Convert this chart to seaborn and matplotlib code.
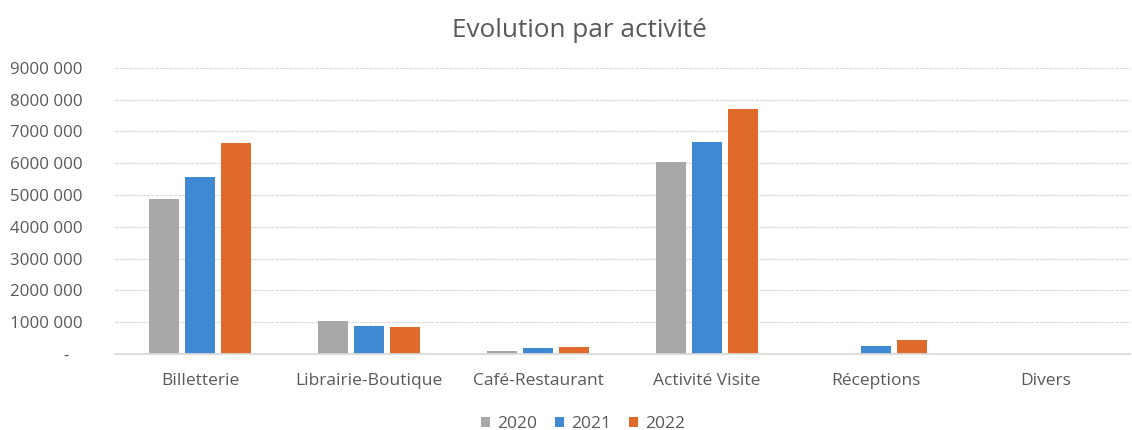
import numpy as np
import pandas as pd
import matplotlib
matplotlib.use("Agg")
import matplotlib.pyplot as plt
import seaborn as sns

categories = ["Billetterie", "Librairie-Boutique", "Café-Restaurant",
              "Activité Visite", "Réceptions", "Divers"]
years = ["2020", "2021", "2022"]
v2020 = [4870000, 1040000, 80000, 6050000, 0, 0]
v2021 = [5570000, 880000, 180000, 6660000, 250000, 0]
v2022 = [6630000, 850000, 220000, 7720000, 430000, 0]
colors = ["#A8A8A8", "#3F88D2", "#E06A2C"]

df = pd.DataFrame({
    "categorie": categories * 3,
    "annee": [y for y in years for _ in categories],
    "valeur": v2020 + v2021 + v2022,
})

sns.set_theme(style="white")
plt.rcParams["font.family"] = ["Open Sans", "DejaVu Sans"]
txt = "#595959"

fig = plt.figure(figsize=(11.32, 4.30), dpi=100)
ax = fig.add_axes([0.102, 0.177, 0.896, 0.665])

sns.barplot(data=df, x="categorie", y="valeur", hue="annee",
            palette=colors, width=0.64, gap=0.17, ax=ax,
            saturation=1, linewidth=0, legend=True)

ax.set_ylim(0, 9000000)
ax.set_yticks(np.arange(0, 9000001, 1000000))

def fmt(v, pos):
    if v == 0:
        return "-   "
    m = int(round(v / 1e6))
    return f"{m}000 000"

ax.yaxis.set_major_formatter(matplotlib.ticker.FuncFormatter(fmt))
ax.grid(axis="y", color="#D9D9D9", linewidth=0.8, linestyle=(0, (3, 1)))
ax.set_axisbelow(True)
for s in ["top", "right", "left"]:
    ax.spines[s].set_visible(False)
ax.spines["bottom"].set_color("#D9D9D9")
ax.tick_params(axis="y", length=0, labelsize=12.2, colors=txt, pad=24)
ax.tick_params(axis="x", length=0, labelsize=12.5, colors=txt, pad=14)
ax.set_xlabel("")
ax.set_ylabel("")

fig.text(0.512, 0.928, "Evolution par activité", ha="center", va="center",
         fontsize=18.8, color=txt)

h, l = ax.get_legend_handles_labels()
ax.legend_.remove()
fig.legend(h, l, loc="center", bbox_to_anchor=(0.515, 0.014), ncol=3,
           frameon=False, fontsize=12.5, labelcolor=txt,
           handlelength=0.55, handleheight=0.55, handletextpad=0.4,
           columnspacing=1.0)

fig.savefig("out.png", dpi=100)
